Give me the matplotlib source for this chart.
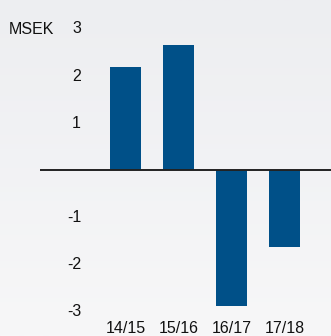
import numpy as np
import matplotlib.pyplot as plt
from matplotlib.transforms import blended_transform_factory

plt.rcParams['font.family'] = ['Liberation Sans', 'DejaVu Sans']

# resultat per räkenskapsår, MSEK
seasons = ['14/15', '15/16', '16/17', '17/18']
result = [2.19, 2.66, -2.89, -1.64]
yticks = [3, 2, 1, -1, -2, -3]

W, H = 331, 336
fig = plt.figure(figsize=(W / 100, H / 100), dpi=100)

# ljus bakgrund med svag gradient
bg = fig.add_axes([0, 0, 1, 1], zorder=0)
grad = np.linspace(0, 1, 256).reshape(-1, 1)
bg.imshow(grad, aspect='auto', cmap=plt.matplotlib.colors.LinearSegmentedColormap.from_list(
    'bg', ['#edeef1', '#f7f7f8']), extent=[0, 1, 0, 1], origin='upper')
bg.axis('off')

left, bottom = 40, 315
ax = fig.add_axes([left / W, (H - bottom) / H, (W - left) / W, bottom / H], zorder=1)
ax.patch.set_alpha(0)

x = np.arange(len(seasons))
ax.bar(x, result, width=0.585, color='#005088', zorder=2)
ax.axhline(0, color='#222222', linewidth=1.4, zorder=3)

ax.set_xlim(-1.613, 3.877)
ax.set_ylim(-3.085, 3.617)
for s in ax.spines.values():
    s.set_visible(False)
ax.set_yticks([])
ax.set_xticks(x)
ax.set_xticklabels(seasons, fontsize=11.5)
ax.tick_params(axis='x', length=0, pad=4, colors='#111111')

tr = blended_transform_factory(ax.transAxes, ax.transData)
for v in yticks:
    ax.text(0.141, v, str(v), transform=tr, ha='right', va='center',
            fontsize=11.5, color='#111111')

fig.text(9 / W, 1 - 29 / H, 'MSEK', ha='left', va='center', fontsize=11.5, color='#111111')

fig.savefig('out.png', dpi=100)
